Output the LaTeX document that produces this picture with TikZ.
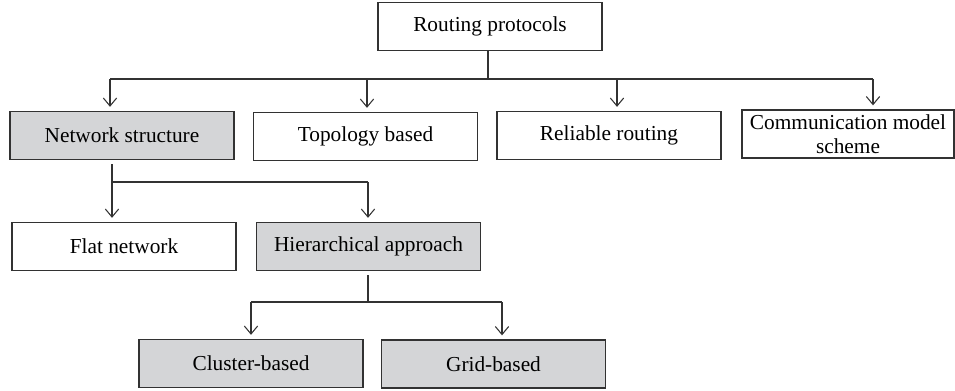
\documentclass[tikz,border=0pt]{standalone}
\usepackage{fontspec}
\setmainfont{Liberation Serif}
\usetikzlibrary{arrows.meta}
\definecolor{boxgray}{RGB}{212,213,215}
\definecolor{linegray}{RGB}{50,50,50}
\tikzset{
    box/.style={draw=linegray,line width=1pt,minimum width=168pt,minimum height=36pt,
        inner sep=1pt,align=center,font=\fontsize{16}{18}\selectfont},
    greybox/.style={box,fill=boxgray},
    link/.style={draw=linegray,line width=0.8pt},
    arr/.style={link,shorten >=3pt,-{Straight Barb[length=6pt,width=10pt]}},
}

\begin{document}
\begin{tikzpicture}[x=0.75pt,y=-0.75pt]
    \useasboundingbox (0,0) rectangle (955,390);
    % level 0
    \node[box] (root) at (490,26.5) {Routing protocols};
    % level 1
    \node[greybox] (net) at (122,135.5) {Network structure};
    \node[box] (topo) at (365.5,136.5) {Topology based};
    \node[box] (rel) at (609,135.5) {Reliable routing};
    \node[box,minimum width=159pt] (comm) at (848,134) {Communication model\\scheme};
    \coordinate (top bus) at (488,79);
    \draw[link] (root.south -| top bus) -- (top bus);
    \foreach \x/\n in {110/net,367/topo,617/rel,873/comm}{
        \coordinate (tap-\n) at (\x,79);
        \draw[arr] (tap-\n) -- (tap-\n |- \n.north);
    }
    \draw[link] (tap-net) -- (tap-comm);
    % level 2
    \node[box] (flat) at (124,246.5) {Flat network};
    \node[greybox] (hier) at (368.5,246.5) {Hierarchical approach};
    \coordinate (mid bus) at (112,182);
    \draw[link,shorten <=3pt] (net.south -| mid bus) -- (mid bus);
    \foreach \x/\n in {112/flat,368/hier}{
        \coordinate (tap-\n) at (\x,182);
        \draw[arr] (tap-\n) -- (tap-\n |- \n.north);
    }
    \draw[link] (tap-flat) -- (tap-hier);
    % level 3
    \node[greybox] (clus) at (251,363.5) {Cluster-based};
    \node[greybox] (grid) at (493.5,364) {Grid-based};
    \coordinate (low bus) at (368,302);
    \draw[link,shorten <=3pt] (hier.south -| low bus) -- (low bus);
    \foreach \x/\n in {251/clus,502/grid}{
        \coordinate (tap-\n) at (\x,302);
        \draw[arr] (tap-\n) -- (tap-\n |- \n.north);
    }
    \draw[link] (tap-clus) -- (tap-grid);
\end{tikzpicture}
\end{document}
